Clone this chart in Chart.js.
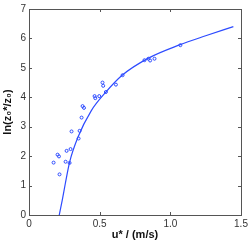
<!DOCTYPE html>
<html>
<head>
<meta charset="utf-8">
<script src="https://cdn.jsdelivr.net/npm/chart.js@4"></script>
<style>
  html, body { margin: 0; padding: 0; background: #fff; }
  #wrap { width: 251px; height: 242px; }
</style>
</head>
<body>
<div id="wrap"><canvas id="myChart--scatter" width="251" height="242"></canvas></div>
<script>
// measured points
var uStar = [0.174, 0.202, 0.212, 0.216, 0.259, 0.266, 0.287, 0.294, 0.301, 0.351, 0.358,
             0.372, 0.379, 0.389, 0.464, 0.469, 0.497, 0.520, 0.525, 0.544, 0.615, 0.662,
             0.817, 0.845, 0.857, 0.888, 1.071];
var lnRatio = [1.78, 2.05, 1.99, 1.38, 1.81, 2.18, 1.77, 2.24, 2.84, 2.60, 2.86,
               3.31, 3.70, 3.64, 4.04, 3.97, 4.04, 4.50, 4.39, 4.18, 4.43, 4.75,
               5.26, 5.31, 5.25, 5.31, 5.77];

// fitted curve
var fitU = [0.214, 0.235, 0.257, 0.287, 0.346, 0.44, 0.539, 0.657, 0.845, 1.065, 1.25, 1.446];
var fitLn = [0, 0.5, 1.07, 1.79, 2.64, 3.54, 4.15, 4.74, 5.33, 5.78, 6.09, 6.40];

var xTicks = [0, 0.5, 1, 1.5];
var yTicks = [0, 1, 2, 3, 4, 5, 6, 7];

var blue = "rgb(45,75,255)";

function pts(xs, ys) {
    return xs.map(function (x, i) { return { x: x, y: ys[i] }; });
}

// MATLAB style box with inward ticks
var boxPlugin = {
    id: "box",
    afterDatasetsDraw: function (chart) {
        var c = chart.ctx, a = chart.chartArea;
        var sx = chart.scales.x, sy = chart.scales.y;
        c.save();
        c.strokeStyle = "#555";
        c.lineWidth = 1;
        c.strokeRect(Math.round(a.left) + 0.5, Math.round(a.top) + 0.5,
                     Math.round(a.right - a.left), Math.round(a.bottom - a.top));
        c.beginPath();
        xTicks.forEach(function (v) {
            var p = Math.round(sx.getPixelForValue(v)) + 0.5;
            c.moveTo(p, a.bottom); c.lineTo(p, a.bottom - 3);
            c.moveTo(p, a.top); c.lineTo(p, a.top + 3);
        });
        yTicks.forEach(function (v) {
            var p = Math.round(sy.getPixelForValue(v)) + 0.5;
            c.moveTo(a.left, p); c.lineTo(a.left + 3, p);
            c.moveTo(a.right, p); c.lineTo(a.right - 3, p);
        });
        c.stroke();
        c.restore();
    }
};

var ctx = document.getElementById("myChart--scatter");

var myScatter = new Chart(ctx, {
    type: "scatter",
    data: {
        datasets: [
            {
                data: pts(uStar, lnRatio),
                borderColor: blue,
                backgroundColor: "rgba(0,0,0,0)",
                borderWidth: 1,
                pointRadius: 1.5,
                pointHoverRadius: 1.5
            },
            {
                data: pts(fitU, fitLn),
                showLine: true,
                borderColor: blue,
                borderWidth: 1.2,
                pointRadius: 0,
                cubicInterpolationMode: "monotone"
            }
        ]
    },
    plugins: [boxPlugin],
    options: {
        responsive: false,
        animation: false,
        layout: { padding: { top: 8, right: 10, left: 0, bottom: 0 } },
        plugins: { legend: { display: false }, tooltip: { enabled: false } },
        scales: {
            x: {
                type: "linear",
                min: 0, max: 1.5,
                afterBuildTicks: function (s) { s.ticks = xTicks.map(function (v) { return { value: v }; }); },
                afterFit: function (s) { s.height = 27; },
                grid: { display: false, drawTicks: false },
                border: { display: false },
                ticks: { color: "#333", padding: 3, font: { family: "Liberation Sans", size: 10 } },
                title: {
                    display: true,
                    text: "u* / (m/s)",
                    color: "#111",
                    padding: { top: 0, bottom: 0 },
                    font: { family: "Liberation Sans", size: 11, weight: "bold" }
                }
            },
            y: {
                type: "linear",
                min: 0, max: 7,
                afterBuildTicks: function (s) { s.ticks = yTicks.map(function (v) { return { value: v }; }); },
                afterFit: function (s) { s.width = 29; },
                grid: { display: false, drawTicks: false },
                border: { display: false },
                ticks: { color: "#333", padding: 3, font: { family: "Liberation Sans", size: 10 } },
                title: {
                    display: true,
                    text: "ln(z₀*/z₀)",
                    color: "#111",
                    padding: { top: 1, bottom: 0 },
                    font: { family: "Liberation Sans", size: 11, weight: "bold" }
                }
            }
        }
    }
});
</script>
</body>
</html>
